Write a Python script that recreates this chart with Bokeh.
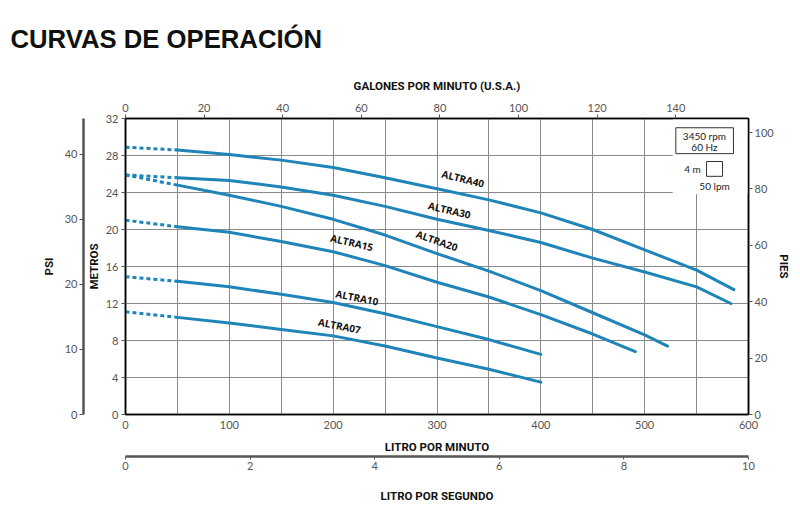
from bokeh.plotting import figure
from bokeh.models import LinearAxis, Range1d, SingleIntervalTicker, FixedTicker, Title
from bokeh.core.properties import value
from bokeh.embed import file_html
from bokeh.resources import INLINE
import math

# ---- data (flow in litres per minute, head in metres) ----
altra40_lpm = [0, 50, 100, 150, 200, 250, 300, 350, 400, 450, 500, 550, 586]
altra40_m = [28.9, 28.6, 28.1, 27.5, 26.7, 25.6, 24.4, 23.2, 21.8, 20.0, 17.8, 15.6, 13.5]
altra30_lpm = [0, 50, 100, 150, 200, 250, 300, 350, 400, 450, 500, 550, 583]
altra30_m = [25.9, 25.6, 25.3, 24.6, 23.7, 22.5, 21.1, 19.9, 18.6, 16.9, 15.4, 13.8, 12.0]
altra20_lpm = [0, 50, 100, 150, 200, 250, 300, 350, 400, 450, 500, 522]
altra20_m = [25.9, 24.8, 23.7, 22.5, 21.1, 19.4, 17.4, 15.5, 13.4, 11.0, 8.6, 7.4]
altra15_lpm = [0, 50, 100, 150, 200, 250, 300, 350, 400, 450, 491]
altra15_m = [21.0, 20.3, 19.7, 18.7, 17.6, 16.1, 14.3, 12.7, 10.8, 8.7, 6.8]
altra10_lpm = [0, 50, 100, 150, 200, 250, 300, 350, 400]
altra10_m = [14.9, 14.4, 13.8, 13.0, 12.1, 10.9, 9.5, 8.1, 6.5]
altra07_lpm = [0, 50, 100, 150, 200, 250, 300, 350, 400]
altra07_m = [11.1, 10.5, 9.9, 9.2, 8.5, 7.4, 6.1, 4.9, 3.5]

series_names = ["ALTRA40", "ALTRA30", "ALTRA20", "ALTRA15", "ALTRA10", "ALTRA07"]
label_lpm = [325, 312, 300, 218, 223, 206]
label_m = [25.5, 22.1, 18.8, 18.6, 12.65, 9.6]
label_angle_deg = [-14, -13, -19, -13, -11, -11]

lpm_ticks = [0, 100, 200, 300, 400, 500, 600]
metros_ticks = [0, 4, 8, 12, 16, 20, 24, 28, 32]
gpm_ticks = [0, 20, 40, 60, 80, 100, 120, 140]
psi_ticks = [0, 10, 20, 30, 40]
pies_ticks = [0, 20, 40, 60, 80, 100]
lps_ticks = [0, 2, 4, 6, 8, 10]

title_text = "CURVAS DE OPERACIÓN"
rpm_text = ["3450 rpm", "60 Hz"]
scale_text = ["4 m", "50 lpm"]

LPM_MAX = 600.0
M_MAX = 32.0
GPM_MAX = LPM_MAX / 3.785
PSI_MAX = M_MAX * 1.4219
FT_MAX = M_MAX * 3.2808
LPS_MAX = LPM_MAX / 60.0

BLUE = "#1f84b8"
TICK_FONT = "Lato"
LABEL_FONT = "Roboto"

p = figure(frame_width=623, frame_height=296,
           x_range=Range1d(0, LPM_MAX), y_range=Range1d(0, M_MAX),
           output_backend="svg", toolbar_location=None,
           x_axis_location=None, y_axis_location=None,
           min_border_left=125, min_border_right=40,
           min_border_top=118, min_border_bottom=92)
p.extra_x_ranges = {"gpm": Range1d(0, GPM_MAX), "lps": Range1d(0, LPS_MAX)}
p.extra_y_ranges = {"psi": Range1d(0, PSI_MAX), "ft": Range1d(0, FT_MAX)}
p.outline_line_color = "black"
p.outline_line_width = 1.5
p.background_fill_color = "white"
p.border_fill_color = "white"


def style_axis(ax, label, line_color="black", line_width=1):
    ax.axis_label = label
    ax.axis_label_text_font = LABEL_FONT
    ax.axis_label_text_font_style = "bold"
    ax.axis_label_text_font_size = "11.5px"
    ax.axis_label_text_color = "#111111"
    ax.major_label_text_font = TICK_FONT
    ax.major_label_text_font_size = "11px"
    ax.major_label_text_color = "#555555"
    ax.minor_tick_line_color = None
    ax.major_tick_in = 0
    ax.major_tick_out = 4
    ax.major_tick_line_color = "#555555"
    ax.axis_line_color = line_color
    ax.axis_line_width = line_width


def make_spacer(size, **kw):
    s = LinearAxis(ticker=FixedTicker(ticks=[]), **kw)
    s.axis_line_color = None
    s.major_tick_line_color = None
    s.minor_tick_line_color = None
    s.major_tick_out = size
    s.major_label_standoff = 0
    return s


# bottom: litros por minuto
ax_lpm = LinearAxis(ticker=FixedTicker(ticks=lpm_ticks))
style_axis(ax_lpm, "LITRO POR MINUTO", line_color="black", line_width=1.5)
ax_lpm.major_tick_out = 0
ax_lpm.major_label_standoff = 6
ax_lpm.axis_label_standoff = 8
p.add_layout(ax_lpm, "below")

# spacer between the two bottom scales
p.add_layout(make_spacer(13), "below")

# bottom: litros por segundo
ax_lps = LinearAxis(x_range_name="lps", ticker=FixedTicker(ticks=lps_ticks))
style_axis(ax_lps, "LITRO POR SEGUNDO", line_color="#555555", line_width=2.5)
ax_lps.major_tick_out = 3
ax_lps.major_label_standoff = 2
ax_lps.axis_label_standoff = 16
p.add_layout(ax_lps, "below")

# left: metros
ax_m = LinearAxis(ticker=FixedTicker(ticks=metros_ticks))
style_axis(ax_m, "METROS", line_color="black", line_width=1.5)
ax_m.major_label_standoff = 3
ax_m.axis_label_standoff = 2
p.add_layout(ax_m, "left")

# left: psi
ax_psi = LinearAxis(y_range_name="psi", ticker=FixedTicker(ticks=psi_ticks))
style_axis(ax_psi, "PSI", line_color="#555555", line_width=2.5)
ax_psi.major_label_standoff = 2
ax_psi.axis_label_standoff = 6
p.add_layout(ax_psi, "left")

# right: pies
ax_ft = LinearAxis(y_range_name="ft", ticker=FixedTicker(ticks=pies_ticks))
style_axis(ax_ft, "PIES", line_color="black", line_width=1.5)
ax_ft.major_label_standoff = 2
ax_ft.axis_label_standoff = 0
p.add_layout(ax_ft, "right")

# top: galones por minuto
ax_gpm = LinearAxis(x_range_name="gpm", ticker=FixedTicker(ticks=gpm_ticks))
style_axis(ax_gpm, "GALONES POR MINUTO (U.S.A.)", line_color="black", line_width=1.5)
ax_gpm.major_label_standoff = 3
ax_gpm.axis_label_standoff = 8
p.add_layout(ax_gpm, "above")

title = Title(text=title_text, align="left", offset=-115, standoff=45,
              vertical_align="bottom",
              text_font="Liberation Sans", text_font_style="bold",
              text_font_size="25.7px", text_color="#111111")
p.add_layout(title, "above")

# grid
p.xgrid.ticker = SingleIntervalTicker(interval=50)
p.ygrid.ticker = FixedTicker(ticks=metros_ticks)
for g in (p.xgrid, p.ygrid):
    g.grid_line_color = "#8a8a8a"
    g.grid_line_width = 1

# white area behind the key (covers grid)
p.quad(left=[527], right=[LPM_MAX], bottom=[23.8], top=[M_MAX],
       fill_color="white", line_color=None)

# curves
curves = [(altra40_lpm, altra40_m), (altra30_lpm, altra30_m), (altra20_lpm, altra20_m),
          (altra15_lpm, altra15_m), (altra10_lpm, altra10_m), (altra07_lpm, altra07_m)]
for xs, ys in curves:
    p.line(xs[:2], ys[:2], line_color=BLUE, line_width=3, line_dash="4 3")
    p.line(xs[1:], ys[1:], line_color=BLUE, line_width=3, line_cap="round",
           line_join="round")

p.text(x=label_lpm, y=label_m, text=series_names,
       angle=[math.radians(a) for a in label_angle_deg],
       text_font=value("Open Sans"), text_font_style="bold", text_font_size="10px",
       text_color="#111111", text_align="center", text_baseline="middle")

# key box
p.quad(left=[530], right=[585.5], bottom=[28.2], top=[31.0],
       fill_color="white", line_color="#333333", line_width=1)
p.text(x=[557.6, 557.6], y=[30.1, 28.9], text=rpm_text,
       text_font=value("Lato"), text_font_size="10px", text_color="#222222",
       text_align="center", text_baseline="middle")
p.quad(left=[559.6], right=[575], bottom=[25.75], top=[27.35],
       fill_color="white", line_color="#333333", line_width=1)
p.text(x=[554, 567.3], y=[26.55, 24.7], text=scale_text,
       text_font=value("Lato"), text_font_size="10px", text_color="#222222",
       text_align=["right", "center"], text_baseline="middle")

open("out.html", "w").write(file_html(p, INLINE))
